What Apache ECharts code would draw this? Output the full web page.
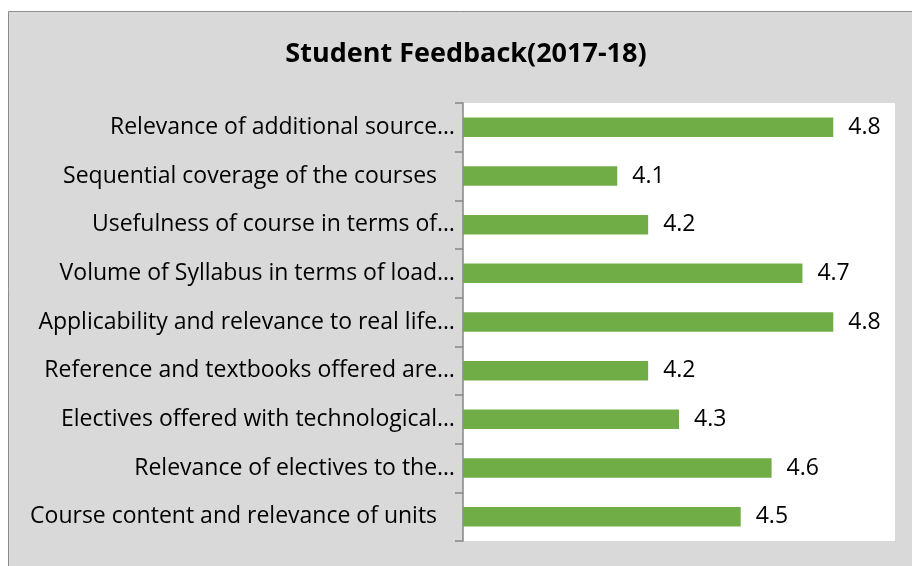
<!DOCTYPE html>
<html>
<head>
<meta charset="utf-8">
<script src="https://cdn.jsdelivr.net/npm/echarts@6/dist/echarts.min.js"></script>
<style>
  html, body { margin: 0; padding: 0; background: #fff; }
  #chart { width: 912px; height: 566px; }
</style>
</head>
<body>
<div id="chart"></div>
<script>
// Student feedback chart (2017-18)
const chartTitle = 'Student Feedback(2017-18)';

const categories = [
    'Relevance of additional source…',
    'Sequential coverage of the courses   ',
    'Usefulness of course in terms of…',
    'Volume of Syllabus in terms of load…',
    'Applicability and relevance to real life…',
    'Reference and textbooks offered are…',
    'Electives offered with technological…',
    'Relevance of electives to the…',
    'Course content and relevance of units   '
];

const scores = [4.8, 4.1, 4.2, 4.7, 4.8, 4.2, 4.3, 4.6, 4.5];

const FONT = "'Open Sans', sans-serif";

const chart = echarts.init(document.getElementById('chart'));
chart.setOption({
    backgroundColor: '#fff',
    animation: false,
    graphic: [
        {
            type: 'rect',
            z: -10,
            shape: { x: 8.5, y: 11.5, width: 1000, height: 1000 },
            style: { fill: '#d9d9d9', stroke: '#8c8c8c', lineWidth: 1 }
        },
        {
            type: 'text',
            x: 466,
            y: 54,
            style: {
                text: chartTitle,
                font: 'bold 27px ' + FONT,
                fill: '#000',
                textAlign: 'center',
                textVerticalAlign: 'middle'
            }
        }
    ],
    grid: {
        left: 463, right: 17, top: 103, bottom: 25,
        show: true, backgroundColor: '#fff', borderWidth: 0
    },
    xAxis: {
        type: 'value',
        min: 3.6,
        max: 5.0,
        show: false,
        splitLine: { show: false }
    },
    yAxis: {
        type: 'category',
        inverse: true,
        data: categories,
        axisLine: { lineStyle: { color: '#868686', width: 1.5 } },
        axisTick: { show: true, length: 8, lineStyle: { color: '#868686', width: 1.5 } },
        axisLabel: { color: '#000', fontSize: 23, fontFamily: FONT, margin: 8, padding: [4, 0, 0, 0] }
    },
    series: [{
        type: 'bar',
        data: scores,
        barCategoryGap: '60%',
        itemStyle: { color: '#70ad47' },
        label: {
            show: true,
            position: 'right',
            distance: 15,
            color: '#000',
            fontSize: 23,
            fontFamily: FONT,
            padding: [5, 0, 0, 0],
            formatter: p => p.value.toFixed(1)
        }
    }]
});
</script>
</body>
</html>
